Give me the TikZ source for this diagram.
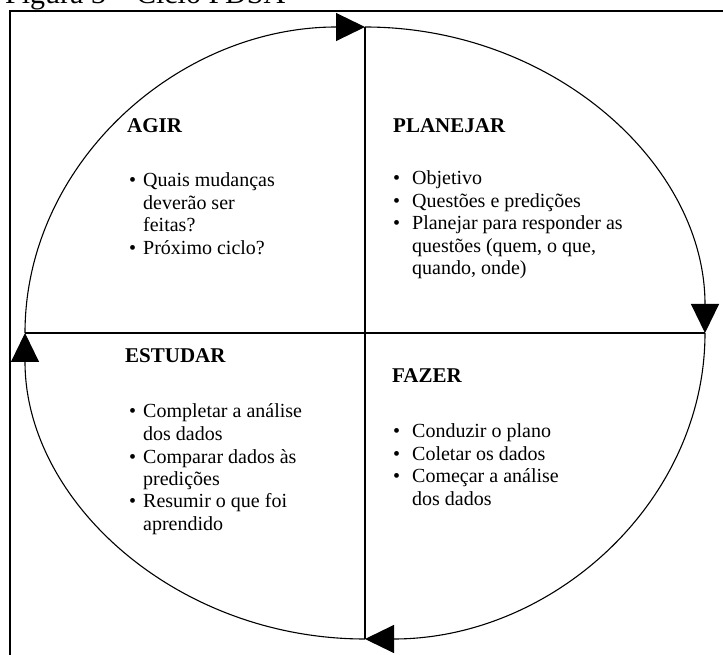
\documentclass[tikz,border=0pt]{standalone}
\usepackage{fontspec}
\setmainfont{Liberation Serif}
\usetikzlibrary{arrows.meta, positioning}

\newcommand{\blt}{\textbullet}

\begin{document}
\begin{tikzpicture}[
    x=1pt, y=1pt,
    frame/.style={draw, line width=1.8pt},
    axis/.style={draw, line width=1.1pt},
    cycle_arc/.style={draw, line width=1.1pt, -{Triangle[length=29pt, width=28pt]}},
    quad_head/.style={anchor=base west, inner sep=0pt, font=\fontsize{21}{24}\selectfont\bfseries},
    quad_list/.style={anchor=base west, inner sep=0pt, font=\fontsize{20}{22.5}\selectfont},
    fig_caption/.style={anchor=base west, inner sep=0pt, font=\fontsize{30}{34}\selectfont}
  ]
  \useasboundingbox (0,0) rectangle (723,654);

  % caption, cut by the page edge
  \node [fig_caption] (P_caption) at (5,650.5) {Figura 3 – Ciclo PDSA};
  \draw [frame] (10,-10) -- (10,643) -- (740,643);

  % cycle points
  \coordinate (P_center) at (365,321);
  \coordinate (P_left)   at (25,321);
  \coordinate (P_top)    at (365,627);
  \coordinate (P_right)  at (705,321);
  \coordinate (P_bottom) at (365,15);

  % axes
  \path [axis] (P_left) -- (P_right);
  \path [axis] (P_top) -- (P_bottom);

  % arcs of the cycle, clockwise
  \path [cycle_arc] (P_left)   arc [start angle=180, end angle=90,   x radius=340, y radius=306];
  \path [cycle_arc] (P_top)    arc [start angle=90,  end angle=0,    x radius=340, y radius=306];
  \path [cycle_arc] (P_right)  arc [start angle=0,   end angle=-90,  x radius=340, y radius=306];
  \path [cycle_arc] (P_bottom) arc [start angle=-90, end angle=-180, x radius=340, y radius=306];

  % quadrants
  \node [quad_head] (P_agir) at (127,521) {AGIR};
  \node [quad_list] (P_agir_list) at ([shift={(2,-54)}]P_agir.base west) {%
    \begin{tabular}[t]{@{}p{14pt}@{}l@{}}
      \blt & Quais mudanças\\
           & deverão ser\\
           & feitas?\\
      \blt & Próximo ciclo?
    \end{tabular}};

  \node [quad_head] (P_planejar) at (393,521) {PLANEJAR};
  \node [quad_list] (P_planejar_list) at ([shift={(0,-52)}]P_planejar.base west) {%
    \begin{tabular}[t]{@{}p{19pt}@{}l@{}}
      \blt & Objetivo\\
      \blt & Questões e predições\\
      \blt & Planejar para responder as\\
           & questões (quem, o que,\\
           & quando, onde)
    \end{tabular}};

  \node [quad_head] (P_estudar) at (125,291) {ESTUDAR};
  \node [quad_list] (P_estudar_list) at ([shift={(4,-55)}]P_estudar.base west) {%
    \begin{tabular}[t]{@{}p{14pt}@{}l@{}}
      \blt & Completar a análise\\
           & dos dados\\
      \blt & Comparar dados às\\
           & predições\\
      \blt & Resumir o que foi\\
           & aprendido
    \end{tabular}};

  \node [quad_head] (P_fazer) at (392,271) {FAZER};
  \node [quad_list] (P_fazer_list) at ([shift={(1,-55)}]P_fazer.base west) {%
    \begin{tabular}[t]{@{}p{19pt}@{}l@{}}
      \blt & Conduzir o plano\\
      \blt & Coletar os dados\\
      \blt & Começar a análise\\
           & dos dados
    \end{tabular}};
\end{tikzpicture}
\end{document}
